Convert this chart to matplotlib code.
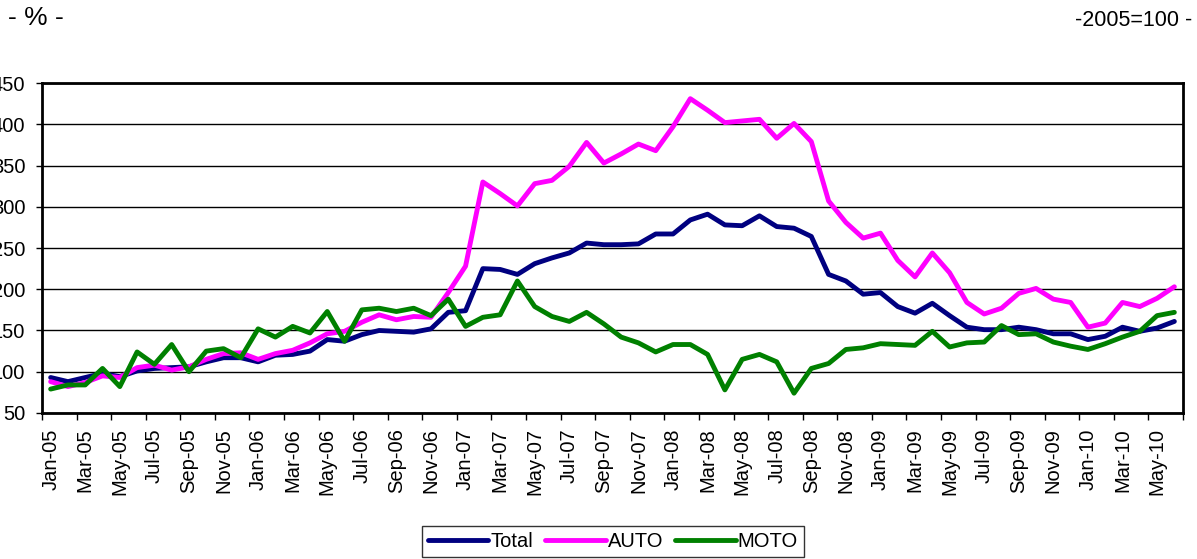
import matplotlib
matplotlib.use('Agg')
import matplotlib.pyplot as plt

plt.rcParams['font.family'] = ['Liberation Sans', 'DejaVu Sans']

# monthly index, Jan-05 .. Jun-10 (2005=100)
months = []
for year in range(5, 11):
  for m in ['Jan', 'Feb', 'Mar', 'Apr', 'May', 'Jun', 'Jul', 'Aug', 'Sep', 'Oct', 'Nov', 'Dec']:
    months.append(m + '-' + str(year).zfill(2))
months = months[:66]

total = [93, 88, 93, 98, 94, 101, 104, 105, 106, 112, 117, 117,
         112, 120, 121, 125, 139, 137, 145, 150, 149, 148, 152, 172,
         174, 225, 224, 218, 231, 238, 244, 256, 254, 254, 255, 267,
         267, 284, 291, 278, 277, 289, 276, 274, 264, 218, 210, 194,
         196, 179, 171, 183, 168, 154, 151, 151, 154, 151, 146, 146,
         139, 143, 154, 149, 153, 161]

auto = [88, 82, 87, 95, 93, 105, 108, 102, 106, 115, 122, 123,
        115, 122, 126, 135, 146, 149, 160, 169, 163, 167, 166, 196,
        228, 330, 316, 301, 328, 332, 349, 378, 353, 364, 376, 368,
        397, 431, 417, 402, 404, 406, 383, 401, 379, 307, 281, 262,
        268, 235, 215, 244, 220, 184, 170, 177, 195, 201, 188, 184,
        154, 159, 184, 179, 189, 203]

moto = [79, 84, 84, 104, 82, 124, 109, 133, 100, 125, 128, 117,
        152, 142, 155, 147, 173, 137, 175, 177, 173, 177, 168, 188,
        155, 166, 169, 210, 179, 167, 161, 172, 158, 142, 135, 124,
        133, 133, 121, 78, 115, 121, 112, 74, 104, 110, 127, 129,
        134, 133, 132, 149, 130, 135, 136, 156, 145, 146, 136, 131,
        127, 134, 142, 149, 168, 172]

x = list(range(len(months)))

fig = plt.figure(figsize=(11.97, 5.59), dpi=100)
ax = fig.add_axes([0.0351, 0.2612, 0.9532, 0.5903])

ax.plot(x, total, color='#000080', lw=3.5, label='Total', solid_capstyle='round', zorder=3)
ax.plot(x, auto, color='#FF00FF', lw=3.5, label='AUTO', solid_capstyle='round', zorder=3)
ax.plot(x, moto, color='#008000', lw=3.5, label='MOTO', solid_capstyle='round', zorder=4)

ax.set_ylim(50, 450)
ax.set_yticks(range(50, 451, 50))
ax.yaxis.grid(True, color='black', lw=1)
ax.set_axisbelow(True)
ax.tick_params(axis='y', length=4, width=1, pad=8, labelsize=14.5)

ax.set_xlim(-0.5, len(months) - 0.5)
ax.set_xticks([i - 0.5 for i in range(0, len(months) + 1, 2)])
ax.set_xticklabels([])
ax.set_xticks(x[::2], minor=True)
ax.set_xticklabels(months[::2], minor=True, rotation=90, fontsize=14.5)
ax.tick_params(axis='x', which='major', length=5, width=1)
ax.tick_params(axis='x', which='minor', length=0, pad=11)

for s in ax.spines.values():
  s.set_linewidth(2)
  s.set_color('black')

fig.text(0.007, 0.968, '- % -', fontsize=19, va='center', ha='left')
fig.text(0.996, 0.964, '-2005=100 -', fontsize=15.5, va='center', ha='right')

leg = fig.legend(loc='center', bbox_to_anchor=(0.512, 0.032), ncol=3, fontsize=14.5,
                 frameon=True, fancybox=False, edgecolor='black', handlelength=3.0,
                 handletextpad=0.1, columnspacing=0.6, borderpad=0.3, borderaxespad=0)
leg.get_frame().set_linewidth(1)

plt.savefig('out.png', dpi=100)
